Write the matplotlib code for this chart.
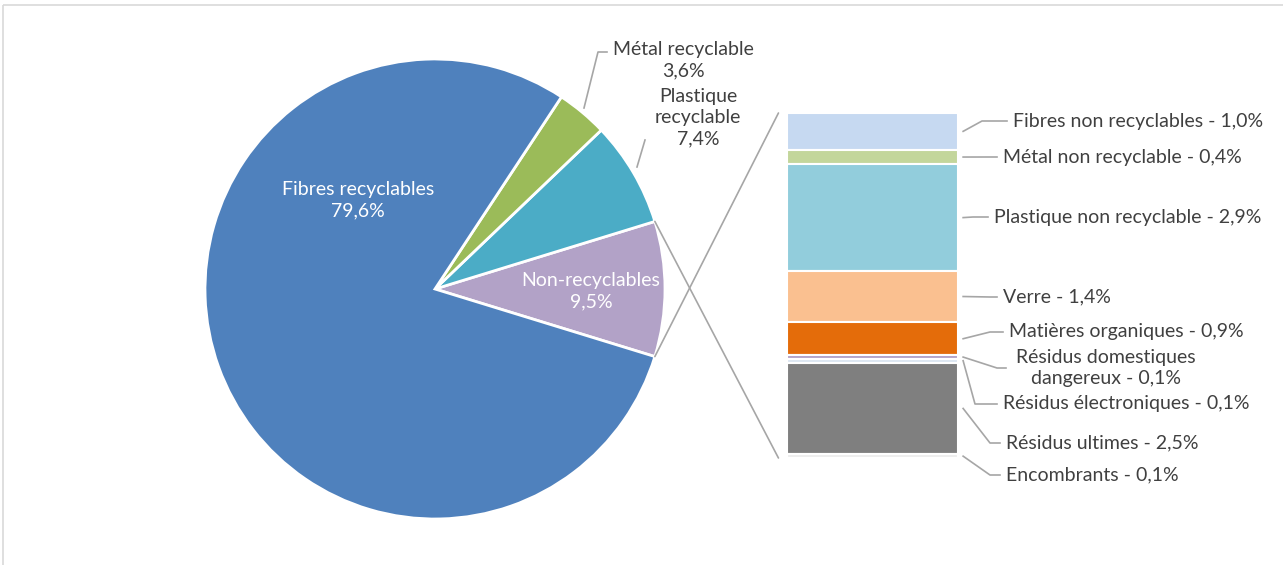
import matplotlib
matplotlib.use("Agg")
import matplotlib.pyplot as plt
from matplotlib.patches import ConnectionPatch, Rectangle
import numpy as np

plt.rcParams['font.family'] = ['Lato', 'DejaVu Sans']

# Composition principale (%)
pie_labels = ["Non-recyclables", "Plastique\nrecyclable", "Métal recyclable", "Fibres recyclables"]
pie_values = [9.5, 7.4, 3.6, 79.6]
pie_colors = ["#B2A2C7", "#4BACC6", "#9BBB59", "#4F81BD"]

# Détail des non-recyclables (%)
bar_labels = ["Fibres non recyclables", "Métal non recyclable", "Plastique non recyclable",
              "Verre", "Matières organiques", "Résidus domestiques\ndangereux",
              "Résidus électroniques", "Résidus ultimes", "Encombrants"]
bar_values = [1.0, 0.4, 2.9, 1.4, 0.9, 0.1, 0.1, 2.5, 0.1]
bar_colors = ["#C6D9F1", "#C3D69B", "#92CDDC", "#FAC090", "#E46C0A",
              "#B3A2C7", "#DCE6F2", "#7F7F7F", "#EEEEEE"]

def pct(v):
    return f"{v:.1f}".replace(".", ",") + "%"

FS = 14
TXT = "#404040"
LINE = "#A6A6A6"

W, H = 1283, 565
fig = plt.figure(figsize=(W / 100, H / 100), dpi=100)
ax = fig.add_axes([0, 0, 1, 1])

# camembert (coordonnées en pixels, y vers le bas)
cx, cy, r = 435, 289, 230
half = pie_values[0] / sum(pie_values) * 360 / 2
wedges, _ = ax.pie(pie_values, colors=pie_colors, startangle=half, counterclock=False,
                   center=(cx, cy), radius=r,
                   wedgeprops=dict(edgecolor="white", linewidth=2))
ax.set_xlim(0, W)
ax.set_ylim(H, 0)
ax.set_aspect("equal")
ax.axis("off")

# cadre du graphique
ax.add_patch(Rectangle((3, 5), W + 10, H + 10, fill=False, edgecolor="#D9D9D9", lw=1.2))

# étiquettes du camembert
ax.text(358, 200, f"{pie_labels[3]}\n{pct(pie_values[3])}", color="white", fontsize=FS,
        ha="center", va="center", linespacing=1.3)
ax.text(591, 291, f"{pie_labels[0]}\n{pct(pie_values[0])}", color="white", fontsize=FS,
        ha="center", va="center", linespacing=1.3)
ax.text(683, 60, f"{pie_labels[2]}\n{pct(pie_values[2])}", color=TXT, fontsize=FS,
        ha="center", va="center", linespacing=1.3)
ax.text(698, 118, f"{pie_labels[1]}\n{pct(pie_values[1])}", color=TXT, fontsize=FS,
        ha="center", va="center", linespacing=1.3)
ax.plot([584, 598, 607], [108, 52, 52], color=LINE, lw=1.2)
ax.plot([637, 645], [167, 140], color=LINE, lw=1.2)

# barre de détail
bx0, bx1, by0, by1 = 787, 958, 113, 458
bax = fig.add_axes([bx0 / W, (H - by1) / H, (bx1 - bx0) / W, (by1 - by0) / H])
bottoms = np.concatenate([[0], np.cumsum(bar_values)[:-1]])
bax.bar(0, bar_values, bottom=bottoms, width=1, color=bar_colors,
        edgecolor="white", linewidth=1.5)
bax.set_xlim(-0.5, 0.5)
bax.set_ylim(sum(bar_values), 0)
bax.axis("off")

# lignes de liaison camembert -> barre
w0 = wedges[0]
for ang, yb in [(w0.theta1, sum(bar_values)), (w0.theta2, 0)]:
    px = cx + r * np.cos(np.radians(ang))
    py = cy + r * np.sin(np.radians(ang))
    con = ConnectionPatch(xyA=(px, py), coordsA=ax.transData,
                          xyB=(-0.55, yb), coordsB=bax.transData,
                          color=LINE, lw=1.2)
    fig.add_artist(con)

# étiquettes de la barre : (coude x, y texte, x texte)
label_pos = [(982, 121, 1013), (988, 157, 1003), (973, 217, 994), (990, 297, 1003),
             (990, 332, 1009), (997, 368, 1012), (975, 404, 1003), (990, 443, 1006),
             (990, 475, 1006)]
to_px = lambda p: ax.transData.inverted().transform(bax.transData.transform(p))
for lab, v, b, (ex, ty, tx) in zip(bar_labels, bar_values, bottoms, label_pos):
    sx, sy = to_px((0.53, b + v / 2))
    ax.plot([sx, ex, tx - 6], [sy, ty, ty], color=LINE, lw=1.2)
    txt = f"{lab} - {pct(v)}"
    if "\n" in lab:
        ax.text(1106, ty, txt, color=TXT, fontsize=FS, ha="center", va="center",
                linespacing=1.3)
    else:
        ax.text(tx, ty, txt, color=TXT, fontsize=FS, ha="left", va="center")

fig.savefig("out.png", dpi=100)
